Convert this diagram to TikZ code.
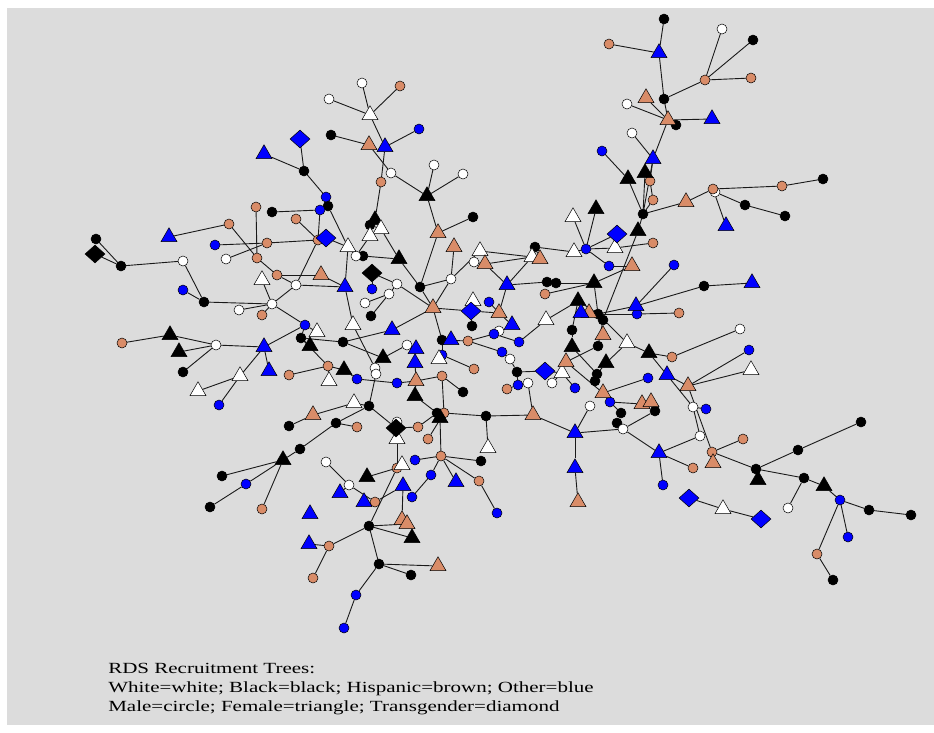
\documentclass[tikz,border=0pt]{standalone}
\usepackage{fontspec}
\setmainfont{Liberation Serif}
\usetikzlibrary{shapes.geometric}
\definecolor{bggray}{RGB}{220,220,220}
\definecolor{hispcol}{RGB}{217,140,104}
\definecolor{othcol}{RGB}{0,0,255}
\pgfdeclarelayer{bg}
\pgfdeclarelayer{ties}
\pgfsetlayers{bg,ties,main}
\tikzset{
  resp/.style={draw=black, line width=0.5pt, inner sep=0pt},
  male/.style={resp, circle, minimum size=10pt},
  female/.style={resp, regular polygon, regular polygon sides=3, minimum size=18.5pt},
  trans/.style={resp, diamond, minimum width=20pt, minimum height=18pt},
  tie/.style={draw=black!90, line width=0.9pt},
  caption/.style={inner sep=0pt, font=\fontsize{15.5}{19}\selectfont, xscale=1.355, transform shape}
}

\begin{document}
\begin{tikzpicture}[x=1pt, y=-1pt]
  \useasboundingbox (0,0) rectangle (934,732);
  \begin{pgfonlayer}{bg}
    \fill[bggray] (7,8) rectangle (934,725);
  \end{pgfonlayer}

  % males
  \foreach \n/\x/\y in {r1/664/19, r5/753/40, r8/664/99, r12/676/125, r21/643/214, r26/823/179, r27/745/205, r28/785/216, r38/535/247, r41/547/282, r42/556/283, r48/598/314, r49/603/320, r51/704/286, r57/572/330, r60/598/346, r73/597/374, r74/595/381, r82/655/411, r84/621/413, r85/617/423, r97/756/469, r99/798/450, r100/861/422, r101/804/478, r105/869/510, r106/911/515, r109/833/580, r122/420/287, r128/472/326, r130/442/340, r143/517/372, r148/463/392, r153/486/416, r156/481/461, r162/370/225, r167/363/256, r174/371/316, r177/343/342, r183/331/135, r192/473/217, r196/304/171, r199/328/206, r203/272/212, r214/96/239, r216/121/266, r219/204/302, r225/301/338, r233/183/372, r247/369/406, r248/289/426, r249/336/423, r256/437/413, r259/300/449, r264/222/476, r266/210/507, r283/369/526, r288/379/564, r290/411/575}
    \node[male, fill=black] (\n) at (\x,\y) {};
  \foreach \n/\x/\y in {r4/722/29, r10/627/104, r14/632/133, r23/715/192, r64/740/329, r71/552/383, r83/590/406, r86/623/429, r88/693/407, r90/700/436, r103/788/508, r117/474/262, r121/451/279, r134/499/331, r136/407/345, r142/510/359, r144/528/383, r166/356/256, r171/397/284, r172/389/294, r173/365/303, r179/362/83, r181/329/99, r187/391/173, r189/434/165, r190/463/174, r209/226/259, r213/296/285, r217/183/261, r220/239/310, r221/272/304, r229/216/345, r242/375/368, r243/376/374, r252/397/422, r261/326/462, r269/349/485}
    \node[male, fill=white] (\n) at (\x,\y) {};
  \foreach \n/\x/\y in {r3/609/44, r6/705/80, r7/751/78, r19/650/181, r20/653/200, r24/713/189, r25/782/186, r32/653/243, r44/545/294, r55/679/313, r63/672/357, r91/743/439, r93/712/452, r95/693/468, r108/817/554, r132/468/341, r146/507/389, r147/474/369, r149/442/376, r157/479/481, r180/400/86, r188/381/182, r201/318/240, r202/256/207, r204/296/219, r205/229/224, r208/267/243, r210/257/258, r211/277/275, r222/262/315, r227/122/343, r237/289/375, r238/328/366, r250/357/427, r253/418/427, r255/428/439, r257/444/413, r263/441/456, r267/262/509, r272/375/502, r273/397/468, r286/329/546, r287/313/578}
    \node[male, fill=hispcol] (\n) at (\x,\y) {};
  \foreach \n/\x/\y in {r16/602/151, r35/586/249, r39/609/266, r50/674/265, r54/637/314, r65/749/350, r72/575/388, r75/648/378, r79/610/402, r89/706/409, r96/663/485, r104/840/500, r107/848/537, r125/489/302, r133/494/334, r135/519/342, r139/442/355, r141/502/352, r145/518/385, r151/397/383, r158/497/513, r170/372/289, r186/419/129, r197/326/197, r198/320/210, r207/215/245, r218/183/290, r223/305/325, r236/219/405, r241/357/379, r262/415/460, r265/246/484, r275/431/475, r279/412/497, r291/356/595, r292/344/628}
    \node[male, fill=othcol] (\n) at (\x,\y) {};

  % females
  \foreach \n/\x/\y in {r17/628/179, r18/645/173, r30/638/231, r34/596/209, r43/594/283, r45/578/301, r59/572/347, r62/649/353, r67/606/363, r98/758/480, r102/824/486, r152/415/396, r160/399/259, r161/375/220, r191/427/196, r226/310/346, r228/170/335, r230/179/352, r239/344/370, r244/383/358, r258/440/418, r260/283/460, r268/367/477, r284/412/538}
    \node[female, fill=black] (\n) at (\x,\y) {};
  \foreach \n/\x/\y in {r33/573/217, r36/615/248, r37/574/252, r56/546/320, r61/627/343, r66/751/370, r70/562/373, r111/723/509, r116/480/251, r120/532/257, r126/473/301, r140/439/359, r155/488/448, r163/381/229, r164/370/236, r165/348/247, r176/353/325, r182/370/115, r212/262/280, r224/317/332, r234/240/376, r235/198/391, r240/329/381, r246/354/403, r254/397/439, r274/402/465}
    \node[female, fill=white] (\n) at (\x,\y) {};
  \foreach \n/\x/\y in {r9/646/98, r11/668/120, r22/686/202, r40/632/266, r47/589/313, r58/603/335, r68/566/362, r77/688/386, r78/603/393, r80/642/404, r81/651/402, r94/713/463, r114/578/502, r115/454/247, r118/485/264, r123/433/308, r127/499/313, r150/416/381, r154/533/415, r178/321/275, r184/369/145, r193/438/233, r245/313/415, r281/402/520, r282/407/524, r289/438/566, r293/540/259}
    \node[female, fill=hispcol] (\n) at (\x,\y) {};
  \foreach \n/\x/\y in {r2/659/53, r13/712/119, r15/653/159, r29/726/226, r46/581/313, r52/752/283, r53/636/306, r76/667/375, r87/575/433, r92/659/453, r113/575/468, r119/507/285, r129/512/325, r131/451/340, r137/416/349, r138/415/363, r169/345/287, r175/392/330, r185/385/147, r195/264/154, r206/169/237, r231/264/347, r232/269/371, r270/340/493, r271/364/502, r276/456/482, r278/403/486, r280/310/514, r285/309/544}
    \node[female, fill=othcol] (\n) at (\x,\y) {};

  % transgender
  \foreach \n/\x/\y in {r168/372/273, r215/95/254, r251/396/428}
    \node[trans, fill=black] (\n) at (\x,\y) {};
  \foreach \n/\x/\y in {r31/617/234, r69/545/371, r110/689/498, r112/761/519, r124/471/311, r194/300/139, r200/326/238}
    \node[trans, fill=othcol] (\n) at (\x,\y) {};

  % recruitment ties
  \begin{pgfonlayer}{ties}
  \foreach \a/\b in {r1/r2, r3/r2, r2/r8, r8/r6, r6/r4, r6/r5, r6/r7, r8/r11, r9/r11, r10/r11, r11/r13, r11/r12, r11/r15, r14/r15, r15/r19, r19/r20, r20/r21, r15/r21, r16/r17, r17/r21, r18/r21, r21/r22, r22/r24, r24/r25, r25/r26, r23/r27, r27/r28, r24/r29, r21/r30, r30/r49, r33/r35, r34/r35, r31/r35, r35/r36, r36/r32, r35/r37, r37/r38, r38/r293, r35/r39, r39/r40, r43/r40, r44/r43, r119/r41, r41/r42, r42/r43, r43/r48, r45/r48, r46/r48, r47/r48, r48/r53, r48/r54, r54/r55, r53/r50, r53/r51, r51/r52, r45/r56, r45/r57, r49/r58, r48/r61, r61/r62, r62/r63, r63/r64, r61/r67, r67/r73, r62/r76, r76/r77, r77/r65, r77/r66, r76/r88, r88/r89, r88/r90, r57/r59, r59/r73, r73/r74, r49/r60, r60/r68, r68/r78, r78/r75, r78/r79, r69/r70, r70/r72, r70/r71, r69/r143, r79/r80, r80/r81, r81/r82, r79/r84, r84/r85, r83/r87, r87/r86, r86/r82, r87/r113, r113/r114, r86/r92, r92/r90, r92/r95, r92/r96, r77/r93, r93/r91, r93/r94, r93/r97, r97/r98, r97/r99, r99/r100, r97/r101, r101/r103, r101/r102, r102/r104, r104/r105, r105/r106, r104/r107, r104/r108, r108/r109, r110/r111, r111/r112}
    \draw[tie] (\a) -- (\b);
  \foreach \a/\b in {r179/r182, r180/r182, r181/r182, r182/r185, r186/r185, r183/r184, r184/r187, r185/r188, r187/r191, r189/r191, r190/r191, r191/r193, r192/r193, r193/r122, r188/r161, r161/r162, r162/r163, r162/r164, r163/r160, r164/r166, r199/r165, r200/r165, r165/r169, r166/r167, r167/r160, r160/r122, r122/r121, r121/r116, r115/r121, r117/r118, r118/r119, r118/r120, r119/r120, r116/r120, r120/r38, r122/r123, r123/r171, r123/r121, r123/r124, r123/r175, r123/r130, r130/r131, r130/r132, r130/r139, r139/r140, r124/r127, r124/r126, r124/r128, r125/r127, r127/r119, r127/r129, r132/r133, r133/r134, r133/r135, r135/r56, r132/r141, r141/r142, r142/r143, r143/r145, r145/r144, r145/r146, r144/r154, r147/r139, r148/r149, r149/r257, r151/r150, r150/r149, r150/r152, r152/r256, r150/r138, r138/r137, r137/r136, r168/r171, r168/r170, r171/r172, r172/r173, r174/r172, r178/r169, r169/r176, r176/r242, r242/r243, r243/r247, r175/r177, r177/r225, r177/r244, r244/r136, r238/r239, r239/r241, r241/r151, r238/r240, r237/r238, r238/r225, r153/r155, r153/r154, r257/r153, r154/r87}
    \draw[tie] (\a) -- (\b);
  \foreach \a/\b in {r194/r196, r195/r196, r196/r197, r197/r199, r203/r198, r198/r201, r201/r200, r204/r201, r202/r210, r205/r210, r206/r205, r207/r208, r209/r208, r208/r201, r210/r211, r211/r213, r211/r178, r213/r169, r213/r201, r212/r221, r214/r216, r215/r216, r216/r217, r217/r219, r218/r219, r219/r221, r220/r221, r222/r221, r221/r213, r221/r223, r223/r225, r224/r223, r225/r226, r227/r228, r228/r229, r230/r229, r233/r229, r229/r231, r231/r232, r231/r234, r234/r235, r234/r236, r231/r223}
    \draw[tie] (\a) -- (\b);
  \foreach \a/\b in {r246/r247, r247/r251, r247/r249, r248/r245, r245/r246, r249/r250, r249/r259, r259/r260, r260/r264, r260/r265, r265/r266, r260/r267, r251/r252, r251/r253, r253/r256, r251/r254, r255/r257, r256/r258, r258/r263, r262/r263, r263/r275, r263/r276, r263/r156, r263/r157, r157/r158, r254/r273, r273/r274, r273/r268, r273/r283, r275/r279, r261/r269, r269/r270, r269/r272, r272/r271, r272/r278, r278/r281, r283/r282, r283/r286, r286/r285, r286/r287, r283/r284, r283/r288, r288/r289, r288/r290, r288/r291, r291/r292}
    \draw[tie] (\a) -- (\b);
  \end{pgfonlayer}

  % legend text
  \node[caption, anchor=base west] (cap1) at (108,673) {RDS Recruitment Trees:};
  \node[caption, anchor=base west] (cap2) at (108,692) {White=white; Black=black; Hispanic=brown; Other=blue};
  \node[caption, anchor=base west] (cap3) at (108,711) {Male=circle; Female=triangle; Transgender=diamond};
\end{tikzpicture}
\end{document}
